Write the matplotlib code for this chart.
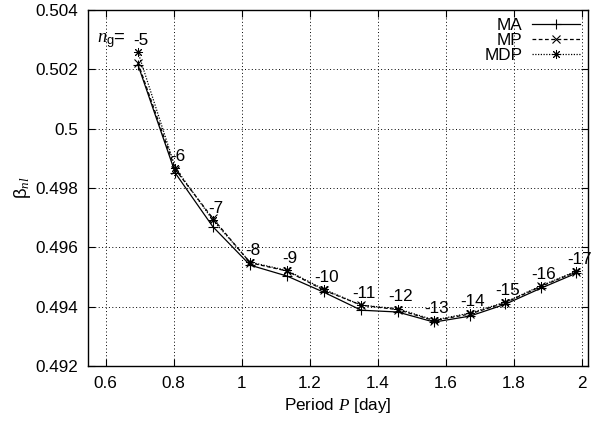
import numpy as np
import matplotlib.pyplot as plt

plt.rcParams['font.family'] = ['Liberation Sans', 'DejaVu Sans']
plt.rcParams['mathtext.fontset'] = 'custom'
plt.rcParams['mathtext.rm'] = 'Liberation Serif'
plt.rcParams['mathtext.it'] = 'Liberation Serif:italic'
plt.rcParams['mathtext.sf'] = 'Liberation Sans'

# pulsation period of each mode [day] and its radial order n_g
period = [0.695, 0.805, 0.915, 1.025, 1.134, 1.243, 1.352, 1.459, 1.566, 1.671, 1.775, 1.880, 1.985]
ng = [-5, -6, -7, -8, -9, -10, -11, -12, -13, -14, -15, -16, -17]

# beta_nl for the three models
beta_ma = [0.50215, 0.49850, 0.49670, 0.49540, 0.49503, 0.49448, 0.49388,
           0.49382, 0.49348, 0.49368, 0.49408, 0.49462, 0.49513]
beta_mp = [0.50222, 0.49862, 0.49698, 0.49548, 0.49520, 0.49455, 0.49405,
           0.49390, 0.49353, 0.49375, 0.49413, 0.49468, 0.49518]
beta_mdp = [0.50258, 0.49868, 0.49692, 0.49550, 0.49522, 0.49458, 0.49405,
            0.49393, 0.49355, 0.49378, 0.49415, 0.49470, 0.49520]

xticks = [0.6, 0.8, 1.0, 1.2, 1.4, 1.6, 1.8, 2.0]
xticklabels = ['0.6', '0.8', '1', '1.2', '1.4', '1.6', '1.8', '2']
yticks = [0.492, 0.494, 0.496, 0.498, 0.5, 0.502, 0.504]
yticklabels = ['0.492', '0.494', '0.496', '0.498', '0.5', '0.502', '0.504']

fig = plt.figure(figsize=(5.98, 4.25), dpi=100)
ax = fig.add_axes([88 / 598, 1 - 366 / 425, 500 / 598, 356 / 425])

fs = 12.3
ast = (8, 2, 0)   # gnuplot-like asterisk (+ and x together)

ax.plot(period, beta_ma, color='black', lw=0.9, ls='-', marker='+', ms=7, mew=0.8, label='MA')
ax.plot(period, beta_mp, color='black', lw=0.9, ls=(0, (3, 2)), marker='x', ms=5.5, mew=0.8, label='MP')
ax.plot(period, beta_mdp, color='black', lw=0.9, ls=(0, (1, 1.2)), marker=ast, ms=6.5, mew=0.7, label='MDP')

# radial order above each point
for p, b, n in zip(period, beta_mdp, ng):
    ax.annotate(str(n), (p, b), xytext=(2, 8.5), textcoords='offset points',
                ha='center', va='center', fontsize=fs)
ax.annotate(r'$n_{\mathsf{g}}$=', (period[0], beta_mdp[0]), xytext=(-9, 8.5),
            textcoords='offset points', ha='right', va='center', fontsize=fs + 1)

ax.set_xlim(0.548, 2.019)
ax.set_ylim(0.492, 0.504)
ax.set_xticks(xticks)
ax.set_xticklabels(xticklabels)
ax.set_yticks(yticks)
ax.set_yticklabels(yticklabels)
ax.tick_params(direction='in', length=5, width=0.8, top=True, right=True,
               labelsize=fs, pad=7)
ax.grid(True, color='black', ls=(0, (1, 2.5)), lw=0.7)
for s in ax.spines.values():
    s.set_linewidth(1.0)

ax.set_xlabel('Period $P$ [day]', fontsize=fs, labelpad=4)
ax.set_ylabel(r'β$_{nl}$', fontsize=fs + 1, labelpad=2)

leg = ax.legend(loc='upper right', markerfirst=False, frameon=False, fontsize=fs,
                handlelength=2.8, handletextpad=0.6, labelspacing=0.0,
                borderaxespad=0.3, borderpad=0.15)

fig.savefig('out.png', dpi=100)
